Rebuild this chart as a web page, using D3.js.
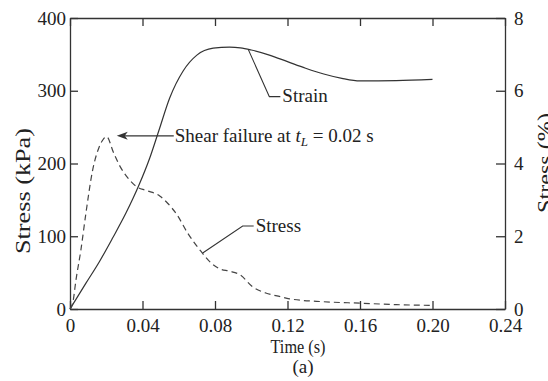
<!DOCTYPE html>
<html>
<head>
<meta charset="utf-8">
<title>Stress and strain vs time</title>
<script src="https://d3js.org/d3.v7.min.js"></script>
<style>
  body { margin: 0; background: #fff; }
  svg text { font-family: "Liberation Serif", "Times New Roman", serif; fill: #222; }
  .axis path, .axis line { stroke: #333; stroke-width: 1.3; }
  .axis text { font-size: 19px; }
</style>
</head>
<body>
<div id="chart"></div>
<script>
// strain curve (right axis, %)
var strainTime = [0, 0.0088, 0.0162, 0.0235, 0.031, 0.038, 0.044, 0.049, 0.055, 0.0625, 0.07, 0.079, 0.088, 0.094, 0.1, 0.11, 0.12, 0.13, 0.14, 0.15, 0.16, 0.18, 0.2];
var strainVals = [0, 0.71, 1.3, 1.95, 2.65, 3.4, 4.15, 4.9, 5.8, 6.55, 6.98, 7.17, 7.2, 7.18, 7.12, 6.98, 6.8, 6.62, 6.46, 6.34, 6.27, 6.28, 6.31];

// stress curve (left axis, kPa)
var stressTime = [0, 0.0015, 0.0033, 0.006, 0.0088, 0.0125, 0.016, 0.018, 0.0202, 0.024, 0.0276, 0.032, 0.0368, 0.042, 0.0497, 0.054, 0.0589, 0.065, 0.0717, 0.078, 0.0828, 0.088, 0.0938, 0.101, 0.108, 0.116, 0.121, 0.14, 0.16, 0.18, 0.2];
var stressVals = [0, 8, 40, 81, 132, 191, 222, 232, 237, 215, 196, 180, 168, 163, 155, 145, 130, 104, 81, 63, 55, 52, 47, 30, 22, 17, 14, 10, 8, 6, 5];

var timeTicks = [0, 0.04, 0.08, 0.12, 0.16, 0.20, 0.24];
var kpaTicks = [0, 100, 200, 300, 400];
var pctTicks = [0, 2, 4, 6, 8];

var width = 548, height = 381;
var mLeft = 70, mRight = 505, mTop = 18, mBottom = 309;

var svg = d3.select("#chart").append("svg")
  .attr("width", width)
  .attr("height", height);

var x = d3.scaleLinear().domain([0, 0.24]).range([mLeft, mRight]);
var yL = d3.scaleLinear().domain([0, 400]).range([mBottom, mTop]);
var yR = d3.scaleLinear().domain([0, 8]).range([mBottom, mTop]);

// axes, ticks point inward
svg.append("g").attr("class", "axis")
  .attr("transform", "translate(0," + mBottom + ")")
  .call(d3.axisBottom(x).tickValues(timeTicks).tickSize(-8).tickSizeOuter(0).tickPadding(10)
    .tickFormat(function (d) { return d === 0 ? "0" : d.toFixed(2); }));

svg.append("g").attr("class", "axis")
  .attr("transform", "translate(0," + mTop + ")")
  .call(d3.axisTop(x).tickValues(timeTicks).tickSize(-8).tickSizeOuter(0).tickFormat(""));

svg.append("g").attr("class", "axis")
  .attr("transform", "translate(" + mLeft + ",0)")
  .call(d3.axisLeft(yL).tickValues(kpaTicks).tickSize(-8).tickSizeOuter(0).tickPadding(4));

svg.append("g").attr("class", "axis")
  .attr("transform", "translate(" + mRight + ",0)")
  .call(d3.axisRight(yR).tickValues(pctTicks).tickSize(-9).tickSizeOuter(0).tickPadding(9));

svg.selectAll(".axis .domain").attr("fill", "none");

// curves
var strainLine = d3.line()
  .x(function (d, i) { return x(strainTime[i]); })
  .y(function (d) { return yR(d); })
  .curve(d3.curveMonotoneX);

var stressLine = d3.line()
  .x(function (d, i) { return x(stressTime[i]); })
  .y(function (d) { return yL(d); })
  .curve(d3.curveMonotoneX);

svg.append("path")
  .attr("d", strainLine(strainVals))
  .attr("fill", "none")
  .attr("stroke", "#333")
  .attr("stroke-width", 1.2);

svg.append("path")
  .attr("d", stressLine(stressVals))
  .attr("fill", "none")
  .attr("stroke", "#444")
  .attr("stroke-width", 1.2)
  .attr("stroke-dasharray", "6,4");

// annotation: shear failure arrow
var tipX = x(0.0258), tipY = yL(238);
svg.append("line")
  .attr("x1", tipX + 6).attr("y1", tipY)
  .attr("x2", tipX + 57).attr("y2", tipY)
  .attr("stroke", "#333").attr("stroke-width", 1.2);
svg.append("path")
  .attr("d", "M" + tipX + "," + tipY + " l11,-4 l-3,4 l3,4 z")
  .attr("fill", "#333");

var shear = svg.append("text")
  .attr("x", tipX + 58)
  .attr("y", tipY + 6)
  .style("font-size", "19px");
shear.append("tspan").text("Shear failure at ");
shear.append("tspan").style("font-style", "italic").text("t");
shear.append("tspan").style("font-style", "italic").style("font-size", "13px").attr("dy", 4).text("L");
shear.append("tspan").attr("dy", -4).text(" = 0.02 s");

// annotation: strain label
var sAx = x(0.0984), sAy = yR(7.13);
svg.append("path")
  .attr("d", "M" + sAx + "," + sAy + " L" + (sAx + 21) + "," + (sAy + 47) + " l11,0")
  .attr("fill", "none").attr("stroke", "#333").attr("stroke-width", 1.1);
svg.append("text")
  .attr("x", sAx + 34).attr("y", sAy + 52)
  .style("font-size", "19px")
  .text("Strain");

// annotation: stress label
var tAx = x(0.0732), tAy = yL(77);
svg.append("path")
  .attr("d", "M" + tAx + "," + tAy + " L" + (tAx + 40) + "," + (tAy - 27) + " l11,0")
  .attr("fill", "none").attr("stroke", "#333").attr("stroke-width", 1.1);
svg.append("text")
  .attr("x", tAx + 53).attr("y", tAy - 21)
  .style("font-size", "19px")
  .text("Stress");

// axis titles
svg.append("text")
  .attr("transform", "translate(30,191) rotate(-90)")
  .attr("text-anchor", "middle")
  .style("font-size", "21px")
  .attr("textLength", 126)
  .attr("lengthAdjust", "spacingAndGlyphs")
  .text("Stress (kPa)");

svg.append("text")
  .attr("transform", "translate(552,163) rotate(-90)")
  .attr("text-anchor", "middle")
  .style("font-size", "21px")
  .attr("textLength", 100)
  .attr("lengthAdjust", "spacingAndGlyphs")
  .text("Stress (%)");

svg.append("text")
  .attr("x", 298).attr("y", 353)
  .attr("text-anchor", "middle")
  .style("font-size", "19px")
  .attr("textLength", 55)
  .attr("lengthAdjust", "spacingAndGlyphs")
  .text("Time (s)");

svg.append("text")
  .attr("x", 303).attr("y", 373)
  .attr("text-anchor", "middle")
  .style("font-size", "19px")
  .text("(a)");
</script>
</body>
</html>
